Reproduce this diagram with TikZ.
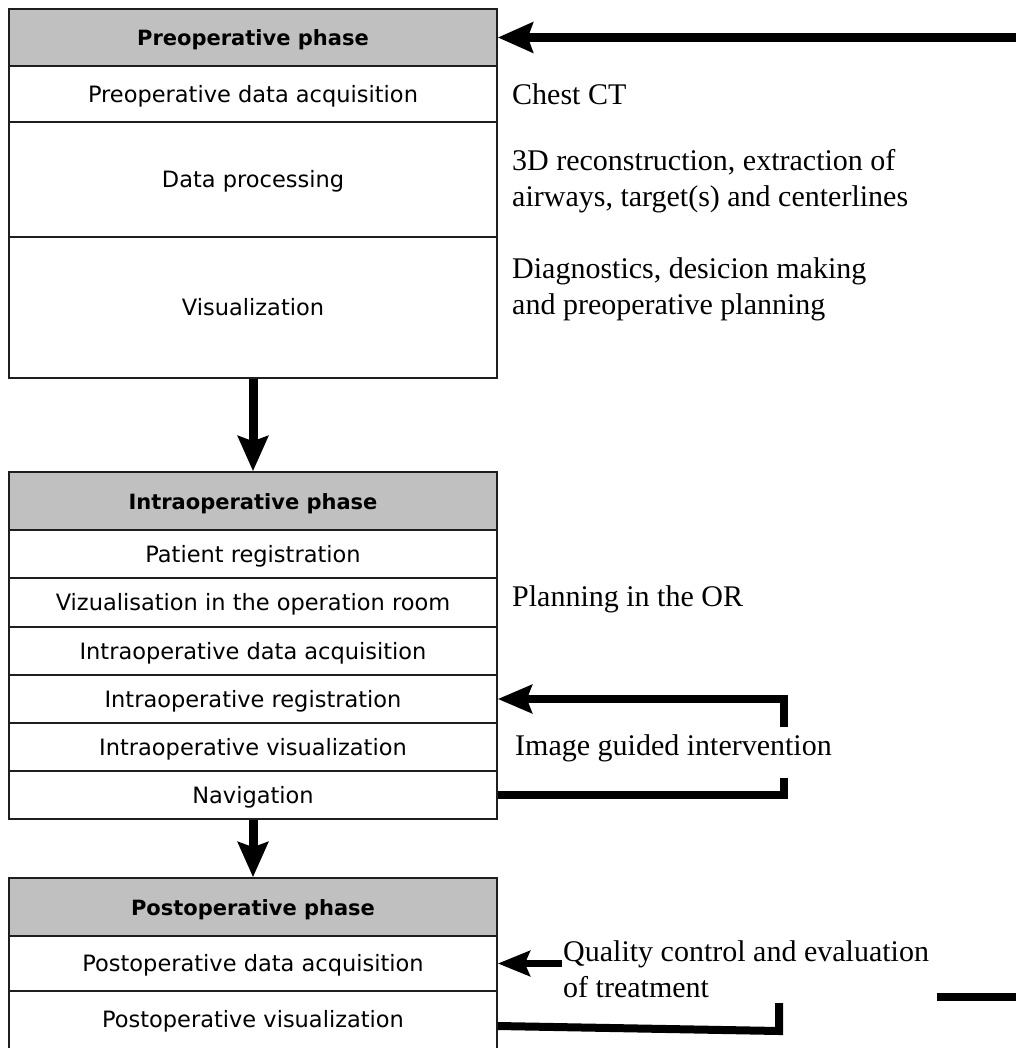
\documentclass[tikz,border=0pt]{standalone}
\usepackage{fontspec}
\setmainfont{Liberation Serif}
\newfontfamily\boxfont{DejaVu Sans}
\usetikzlibrary{arrows.meta}
\definecolor{headgray}{HTML}{C0C0C0}
\definecolor{edgegray}{HTML}{1E1E1E}
\tikzset{
  rowtext/.style={inner sep=0pt, text height=16.5pt, text depth=0pt,
    font=\boxfont\fontsize{22.5}{27}\selectfont},
  row/.style={rowtext, draw=edgegray, line width=1.6pt, fill=white, minimum width=488pt},
  headrow/.style={row, fill=headgray, font=\boxfont\bfseries\fontsize{21}{25}\selectfont},
  note/.style={anchor=west, inner sep=0pt, align=left, font=\fontsize{30}{36}\selectfont},
  bigarrow/.style={line width=9pt, -{Stealth[length=35pt,width=30pt,inset=5pt]}},
  midarrow/.style={line width=8pt, -{Stealth[length=34pt,width=28pt,inset=5pt]}},
  smallarrow/.style={line width=7.5pt, -{Stealth[length=32pt,width=25pt,inset=5pt]}},
  thickline/.style={line width=8pt},
}
\begin{document}
\begin{tikzpicture}[x=1pt,y=-1pt]
\useasboundingbox (0,0) rectangle (1015,1048);
% Preoperative
\node[headrow, minimum height=57pt] (pre) at (253,37.5) {Preoperative phase};
\node[row, minimum height=56pt] (pre1) at (253,94) {Preoperative data acquisition};
\node[row, minimum height=115pt] (pre2) at (253,179.5) {Data processing};
\node[row, minimum height=141pt] (pre3) at (253,307.5) {Visualization};
% Intraoperative
\node[headrow, minimum height=58pt] (intra) at (253,501) {Intraoperative phase};
\node[row, minimum height=48pt] (ipat) at (253,554) {Patient registration};
\node[row, minimum height=49pt] (iviz) at (253,602.5) {Vizualisation in the operation room};
\node[row, minimum height=48pt] (idat) at (253,651) {Intraoperative data acquisition};
\node[row, minimum height=48pt] (ireg) at (253,699) {Intraoperative registration};
\node[row, minimum height=48pt] (ivis) at (253,747) {Intraoperative visualization};
\node[row, minimum height=48pt] (inav) at (253,795) {Navigation};
% Postoperative
\node[headrow, minimum height=58pt] (post) at (253,907) {Postoperative phase};
\node[row, minimum height=55pt] (post1) at (253,963.5) {Postoperative data acquisition};
\node[row, minimum height=70pt] (post2) at (253,1026) {};
\node[rowtext] (post2t) at (253,1019) {Postoperative visualization};
% Notes
\node[note] (nct) at (512,94) {Chest CT};
\node[note] (nrec) at (512,181.5) {3D reconstruction, extraction of\\airways, target(s) and centerlines};
\node[note] (ndia) at (512,289) {Diagnostics, desicion making\\and preoperative planning};
\node[note] (nor) at (512,599) {Planning in the OR};
\node[note] (nigi) at (515,748) {Image guided intervention};
\node[note] (nqc) at (563,969.5) {Quality control and evaluation\\of treatment};
% Connectors
\coordinate (ret1) at (1020,37.5);
\draw[bigarrow] (ret1) -- (pre.east);
\draw[bigarrow] (pre3.south) -- (intra.north);
\draw[bigarrow] (inav.south) -- (post.north);
\coordinate (la) at (784,778);
\coordinate (lb) at (784,727);
\draw[thickline] (inav.east) -| (la);
\draw[midarrow] (lb) |- (ireg.east);
\coordinate (qa) at (562,963.5);
\draw[smallarrow] (qa) -- (post1.east);
\coordinate (qb) at (779,1003);
\coordinate (qc) at (779,1031);
\draw[thickline] (post2.east) -- (qc) -- (qb);
\coordinate (ra) at (937,997);
\coordinate (rb) at (1020,997);
\draw[thickline] (ra) -- (rb);
\end{tikzpicture}
\end{document}
